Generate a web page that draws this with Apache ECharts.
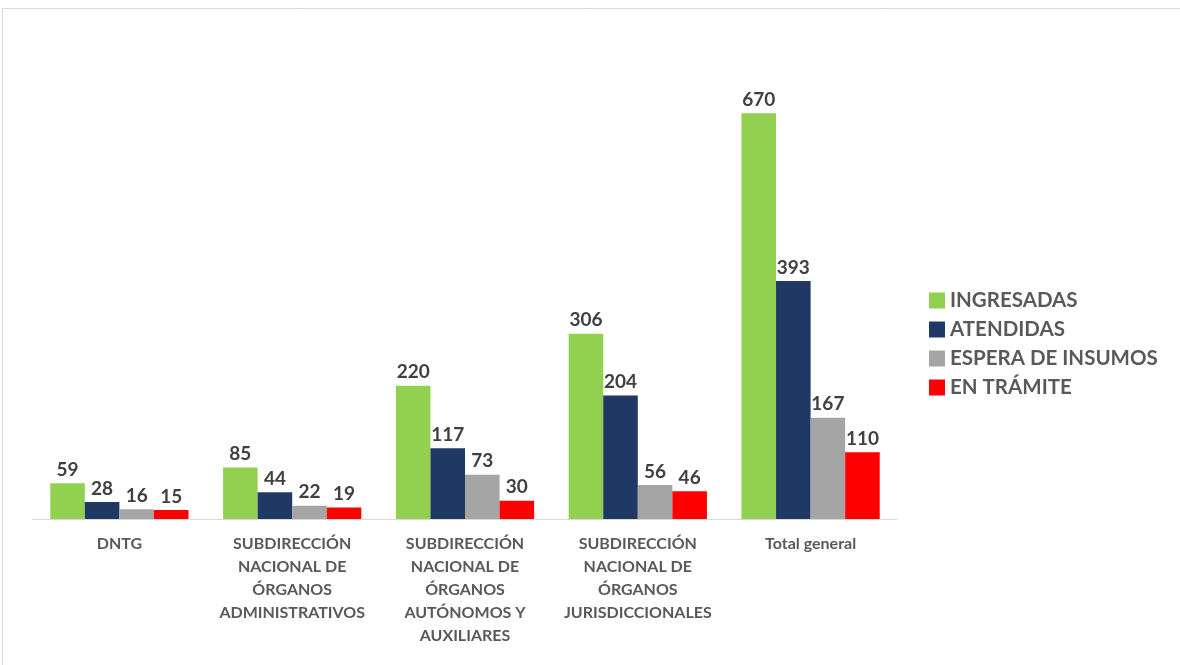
<!DOCTYPE html>
<html>
<head>
<meta charset="utf-8">
<script src="https://cdn.jsdelivr.net/npm/echarts@6/dist/echarts.min.js"></script>
<style>html,body{margin:0;padding:0;background:#fff;}#c{width:1180px;height:665px;}</style>
</head>
<body>
<div id="c"></div>
<script>
const categories = [
  "DNTG",
  "SUBDIRECCIÓN\nNACIONAL DE\nÓRGANOS\nADMINISTRATIVOS",
  "SUBDIRECCIÓN\nNACIONAL DE\nÓRGANOS\nAUTÓNOMOS Y\nAUXILIARES",
  "SUBDIRECCIÓN\nNACIONAL DE\nÓRGANOS\nJURISDICCIONALES",
  "Total general"
];
const seriesNames = ["INGRESADAS", "ATENDIDAS", "ESPERA DE INSUMOS", "EN TRÁMITE"];
const ingresadas = [59, 85, 220, 306, 670];
const atendidas = [28, 44, 117, 204, 393];
const esperaInsumos = [16, 22, 73, 56, 167];
const enTramite = [15, 19, 30, 46, 110];
const colors = ["#92D050", "#1F3864", "#A5A5A5", "#FF0000"];

const values = [ingresadas, atendidas, esperaInsumos, enTramite];
const FONT = 'Lato';
const chart = echarts.init(document.getElementById('c'));
chart.setOption({
  animation: false,
  backgroundColor: '#fff',
  graphic: [{
    type: 'rect', shape: {x: 2.5, y: 8.5, width: 1200, height: 700},
    style: {fill: 'none', stroke: '#d9d9d9', lineWidth: 1}, silent: true
  }],
  grid: {left: 33, right: 283, top: 95, bottom: 146},
  legend: {
    orient: 'vertical', left: 924, top: 285,
    itemWidth: 16, itemHeight: 16, itemGap: 8, icon: 'rect',
    textStyle: {fontSize: 20.5, lineHeight: 20, color: '#595959', fontFamily: FONT, fontWeight: 'bold'},
    data: seriesNames
  },
  xAxis: {
    type: 'category', data: categories,
    axisLine: {lineStyle: {color: '#d9d9d9', width: 1}},
    axisTick: {show: false},
    axisLabel: {interval: 0, color: '#595959', fontSize: 16, lineHeight: 23, margin: 13, fontFamily: FONT, fontWeight: 'bold'}
  },
  yAxis: {type: 'value', min: 0, max: 700, show: false, splitLine: {show: false}},
  series: seriesNames.map((n, i) => ({
    name: n, type: 'bar', data: values[i],
    barGap: '0%', barCategoryGap: '20%',
    itemStyle: {color: colors[i]},
    label: {show: true, position: 'top', distance: 4, fontSize: 19, color: '#404040', fontFamily: FONT, fontWeight: 'bold'}
  }))
});
</script>
</body>
</html>
